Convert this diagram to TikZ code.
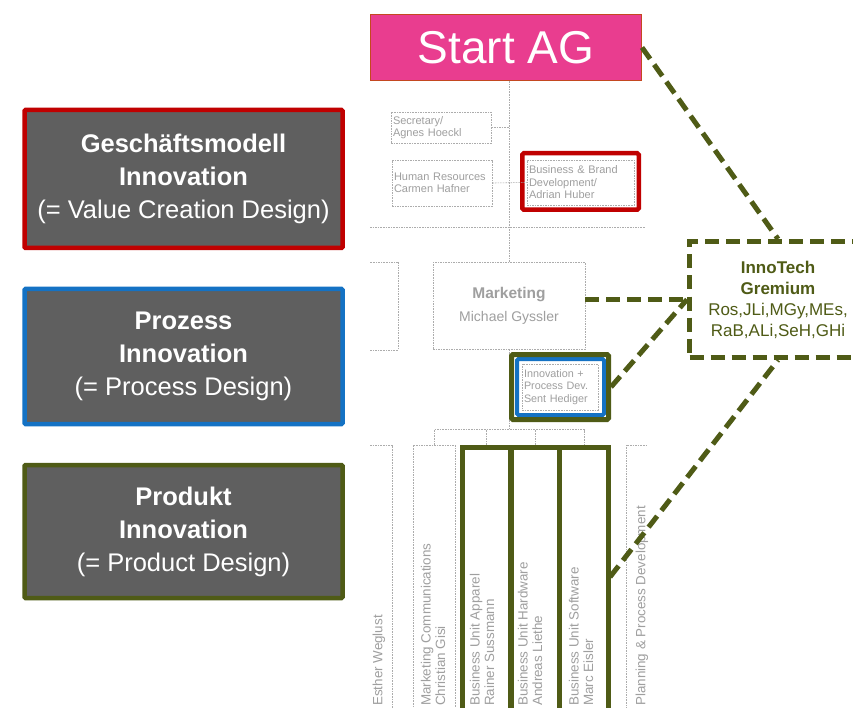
\documentclass[tikz,border=0pt]{standalone}
\usepackage{fontspec}
\setmainfont{Liberation Sans}
\usetikzlibrary{positioning}
\definecolor{fieldgray}{RGB}{95,95,95}
\definecolor{innored}{RGB}{192,0,0}
\definecolor{innoblue}{RGB}{20,114,196}
\definecolor{innoolive}{RGB}{79,91,22}
\definecolor{startpink}{RGB}{233,61,143}
\definecolor{startedge}{RGB}{196,72,32}
\tikzstyle{field} = [rectangle, fill=fieldgray, text=white, align=center, inner sep=0pt, line width=4.5pt, rounded corners=1pt, font=\fontsize{25.5}{33}\selectfont]
\tikzstyle{org} = [rectangle, draw=gray!65, dash pattern=on 1.6pt off 1pt, line width=0.6pt, text=gray!75, align=left, inner sep=2pt, font=\fontsize{11}{12.5}\selectfont]
\tikzstyle{orgline} = [draw=gray!65, dash pattern=on 1.6pt off 1pt, line width=0.6pt]
\tikzstyle{unit} = [rectangle, draw=innoolive, line width=5pt, minimum width=48.5pt, minimum height=292.5pt]
\tikzstyle{unittext} = [rotate=90, anchor=west, align=left, inner sep=0pt, text=gray!75, font=\fontsize{13.4}{14.5}\selectfont]
\tikzstyle{link} = [draw=innoolive, line width=5pt, dash pattern=on 14pt off 7pt]

\begin{document}
\begin{tikzpicture}[x=1pt,y=-1pt]
\path[use as bounding box, clip] (0,0) rectangle (853,708);
\fill[white] (0,0) rectangle (853,708);

% innovation fields on the left
\node[field, draw=innored, minimum width=318pt, minimum height=138pt] (geschaeft) at (183.5,179)
  {\textbf{Geschäftsmodell}\\\textbf{Innovation}\\(= Value Creation Design)};
\node[field, draw=innoblue, minimum width=318pt, minimum height=135pt] (prozess) at (183.5,356.5)
  {\textbf{Prozess}\\\textbf{Innovation}\\(= Process Design)};
\node[field, draw=innoolive, minimum width=318pt, minimum height=133pt] (produkt) at (183.5,531.5)
  {\textbf{Produkt}\\\textbf{Innovation}\\(= Product Design)};

% org chart
\node[rectangle, fill=startpink, draw=startedge, line width=1pt, minimum width=271pt, minimum height=66pt,
  text=white, font=\fontsize{46}{50}\selectfont] (start) at (506,47.5) {Start AG};
\node[org, text width=96pt, minimum height=31pt] (sec) at (441,127.5) {Secretary/\\Agnes Hoeckl};
\node[org, text width=96pt, minimum height=46pt] (hr) at (442,183) {Human Resources\\Carmen Hafner};
\node[org, text width=103pt, minimum height=45pt] (bbd) at (580.5,182.5) {Business \& Brand\\Development/\\Adrian Huber};
\node[rectangle, draw=innored, line width=4.5pt, rounded corners=1.5pt, minimum width=116.5pt, minimum height=56.5pt] (bbdframe) at (580.5,181.5) {};
\node[org, align=center, minimum width=152pt, minimum height=87pt] (mkt) at (509,306)
  {{\fontsize{15.5}{18}\selectfont\bfseries Marketing}\\[8pt]{\fontsize{14}{16}\selectfont Michael Gyssler}};

\draw[orgline] (370,227) -- (645,227);
\draw[orgline] (mkt.north |- start.south) -- (mkt.north);
\draw[orgline] (sec.east) -- (sec.east -| mkt.north);
\draw[orgline] (hr.east) -- (bbd.west);
\draw[orgline] (398,262) -- (370,262) (398,262) -- (398,350) -- (370,350);
\draw[orgline] (mkt.south) -- ++(0,80) coordinate (bar);

\node[org, text width=72pt, minimum height=46pt, font=\fontsize{10.8}{12.5}\selectfont] (innov) at (560,387) {Innovation +\\Process Dev.\\Sent Hediger};
\node[rectangle, draw=innoblue, line width=4pt, rounded corners=1.5pt, minimum width=87pt, minimum height=56pt] (innovblue) at (560.5,387) {};
\node[rectangle, draw=innoolive, line width=5pt, rounded corners=1.5pt, minimum width=97pt, minimum height=65pt] (innovframe) at (560,387) {};

% columns below
\draw[orgline] (370,445) -- (392,445) -- (392,740);
\node[unittext] (esthertxt) at (379,706) {Esther Weglust};
\node[org, minimum width=42pt, minimum height=295pt] (mc) at (434,592.5) {};
\node[unittext] (mctxt) at (433,706) {Marketing Communications\\Christian Gisi};
\node[unit] (apparel) at (486.5,593.75) {};
\node[unit] (hardware) at (535.25,593.75) {};
\node[unit] (software) at (584,593.75) {};
\node[unittext] at (482,706) {Business Unit Apparel\\Rainer Sussmann};
\node[unittext] at (530,706) {Business Unit Hardware\\Andreas Liethe};
\node[unittext] at (581,706) {Business Unit Software\\Marc Eisler};
\draw[orgline] (626,740) -- (626,445) -- (648,445);
\node[unittext] (plantxt) at (642,706) {Planning \& Process Development};

\draw[orgline] (mc.north) -- ++(0,-15) -| (software.north);
\foreach \u in {apparel,hardware}
  \draw[orgline] (\u.north) -- ++(0,-15);

% gremium
\node[rectangle, draw=innoolive, line width=5pt, dash pattern=on 14pt off 7pt, minimum width=177pt, minimum height=116pt,
  align=center, text=innoolive, font=\fontsize{17}{21}\selectfont] (innotech) at (778,299.5)
  {\textbf{InnoTech}\\\textbf{Gremium}\\Ros,JLi,MGy,MEs,\\RaB,ALi,SeH,GHi};

\coordinate (swlink) at (610,577);
\draw[link] (start.east) -- (innotech.north);
\draw[link] (innotech.west -| mkt.east) -- (innotech.west);
\draw[link] (innovframe.east) -- (innotech.west);
\draw[link] (swlink) -- (innotech.south);
\end{tikzpicture}
\end{document}
